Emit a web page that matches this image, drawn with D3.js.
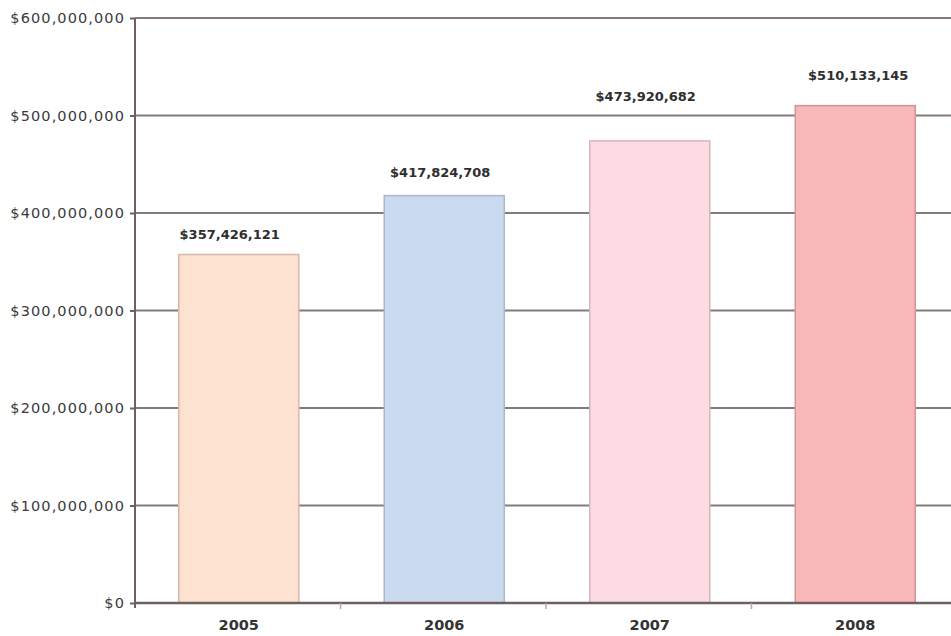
<!DOCTYPE html>
<html><head><meta charset="utf-8">
<script src="https://cdn.jsdelivr.net/npm/d3@7"></script>
<style>body{margin:0;background:#fff}svg{display:block}</style>
</head><body>
<svg id="c" width="951" height="636"></svg>
<script>
const categories = ["2005","2006","2007","2008"];
const values = [357426121, 417824708, 473920682, 510133145];
const yTicks = [0,100000000,200000000,300000000,400000000,500000000,600000000];
const barColors = ["#fde2d2","#c9daf1","#fddbe2","#f8b7b8"];
const barStrokes = ["#d9b8a8","#a9b8cc","#d6b6bd","#d19597"];
const labelGap = [20, 23, 44, 30];
const labelShift = [-9, -4, -4, 3];

(function(){
const svg = d3.select("#c");
const mLeft = 135, mTop = 18, mBottom = 603, bandW = 205.5;
const x = d3.scaleBand().domain(categories).range([mLeft, mLeft + bandW*categories.length]).paddingInner(0).paddingOuter(0);
const y = d3.scaleLinear().domain([0, 600000000]).range([mBottom, mTop]);
const fmt = v => "$" + d3.format(",")(v);
const font = "'DejaVu Sans', sans-serif";

// gridlines
svg.append("g").selectAll("line").data(yTicks.slice(1)).join("line")
  .attr("x1", mLeft).attr("x2", 951)
  .attr("y1", d => y(d)).attr("y2", d => y(d))
  .attr("stroke", "#857a7b").attr("stroke-width", 2);

// bars
const bw = 120;
svg.append("g").selectAll("rect").data(values).join("rect")
  .attr("x", (d,i) => x(categories[i]) + x.bandwidth()/2 - bw/2 + 1)
  .attr("y", d => y(d))
  .attr("width", bw)
  .attr("height", d => mBottom - y(d))
  .attr("fill", (d,i) => barColors[i])
  .attr("stroke", (d,i) => barStrokes[i]).attr("stroke-width", 1.5);

// value labels
svg.append("g").selectAll("text").data(values).join("text")
  .attr("x", (d,i) => x(categories[i]) + x.bandwidth()/2 + 1 + labelShift[i])
  .attr("y", (d,i) => y(d) - labelGap[i])
  .attr("dy", "0.35em")
  .attr("text-anchor", "middle")
  .attr("font-family", font).attr("font-weight", "bold").attr("font-size", 13)
  .attr("fill", "#2e2e2e")
  .text(d => fmt(d));

// y axis
const yAxis = svg.append("g").attr("transform", `translate(${mLeft},0)`)
  .call(d3.axisLeft(y).tickValues(yTicks).tickSize(5).tickPadding(5).tickFormat(fmt));
yAxis.select(".domain").remove();
yAxis.selectAll("line").attr("stroke", "#6e5f61").attr("stroke-width", 2);
yAxis.selectAll("text").attr("font-family", font).attr("font-size", 14.5)
  .attr("letter-spacing", 1.1).attr("fill", "#3a3a3a");
svg.append("line").attr("x1", mLeft).attr("x2", mLeft).attr("y1", mTop).attr("y2", mBottom + 5)
  .attr("stroke", "#6e5f61").attr("stroke-width", 2);

// x axis
const xAxis = svg.append("g").attr("transform", `translate(0,${mBottom})`)
  .call(d3.axisBottom(x).tickSize(0).tickPadding(17));
xAxis.select(".domain").remove();
xAxis.selectAll("text").attr("font-family", font).attr("font-weight", "bold")
  .attr("font-size", 14.5).attr("fill", "#333").attr("dx", 1);
svg.append("line").attr("x1", mLeft).attr("x2", 951).attr("y1", mBottom).attr("y2", mBottom)
  .attr("stroke", "#6e5f61").attr("stroke-width", 2.5);
svg.append("g").selectAll("line").data(categories.slice(1)).join("line")
  .attr("x1", d => x(d)).attr("x2", d => x(d))
  .attr("y1", mBottom).attr("y2", mBottom + 6)
  .attr("stroke", "#b0a6a8").attr("stroke-width", 1.5);
})();
</script>
</body></html>
